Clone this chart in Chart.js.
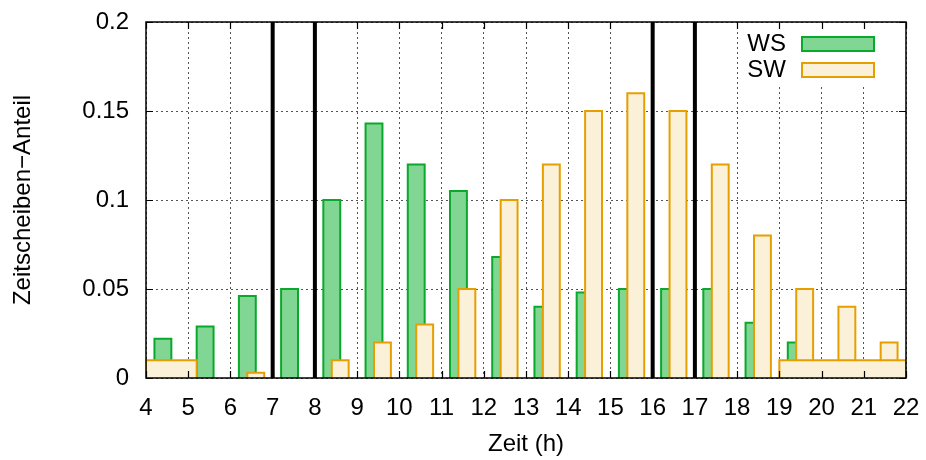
<!DOCTYPE html>
<html><head><meta charset="utf-8">
<script src="https://cdn.jsdelivr.net/npm/chart.js@4"></script>
<style>html,body{margin:0;padding:0;background:#fff}canvas{display:block}</style>
</head><body>
<canvas id="c" width="926" height="460"></canvas>
<script>
// ---- data ----
const seriesNames = ['WS', 'SW'];
const hours    = [4, 5, 6, 7, 8, 9, 10, 11, 12, 13, 14, 15, 16, 17, 18, 19, 20, 21];
const wsValues = [0.022, 0.029, 0.046, 0.050, 0.100, 0.143, 0.120, 0.105, 0.068, 0.040, 0.048, 0.050, 0.050, 0.050, 0.031, 0.020, 0, 0];
const swValues = [0, 0, 0.003, 0, 0.010, 0.020, 0.030, 0.050, 0.100, 0.120, 0.150, 0.160, 0.150, 0.120, 0.080, 0.050, 0.040, 0.020];
const swBlockFrom   = [4, 19];
const swBlockTo     = [5.2, 22];
const swBlockValues = [0.01, 0.01];
const markerHours = [7, 8, 16, 17];
const xTickLabels = ['4','5','6','7','8','9','10','11','12','13','14','15','16','17','18','19','20','21','22'];
const yTickLabels = ['0', '0.05', '0.1', '0.15', '0.2'];
const xTitle = 'Zeit (h)';
const yTitle = 'Zeitscheiben\u2212Anteil';

// ---- styling ----
const FONT = '"Liberation Sans", Arial, Helvetica, sans-serif';
const WS_FILL = '#82d693', WS_LINE = '#0aa82c';
const SW_FILL = '#fbf1d9', SW_LINE = '#e69f00';
const WS_OFFSET = 0.2, SW_OFFSET = 0.4, BAR_W = 0.4;

function rect(x0, x1, v) {
  return [{x: x0, y: 0}, {x: x0, y: v}, {x: x1, y: v}, {x: x1, y: 0}];
}
function barSet(x0, x1, v, fill, line, order) {
  return {
    type: 'line', data: rect(x0, x1, v), fill: 'origin',
    backgroundColor: fill, borderColor: line, borderWidth: 2,
    pointRadius: 0, pointHoverRadius: 0, tension: 0,
    borderJoinStyle: 'miter', order: order
  };
}

const datasets = [];
hours.forEach((h, i) => {
  if (wsValues[i] > 0) datasets.push(barSet(h + WS_OFFSET, h + WS_OFFSET + BAR_W, wsValues[i], WS_FILL, WS_LINE, 4));
});
hours.forEach((h, i) => {
  if (swValues[i] > 0) datasets.push(barSet(h + SW_OFFSET, h + SW_OFFSET + BAR_W, swValues[i], SW_FILL, SW_LINE, 3));
});
swBlockValues.forEach((v, i) => {
  datasets.push(barSet(swBlockFrom[i], swBlockTo[i], v, SW_FILL, SW_LINE, 2));
});
markerHours.forEach(h => {
  datasets.push({
    type: 'line', data: [{x: h, y: 0}, {x: h, y: 0.2}], borderColor: '#000',
    borderWidth: 4, fill: false, pointRadius: 0, pointHoverRadius: 0, order: 1
  });
});

const framePlugin = {
  id: 'frame',
  beforeDatasetsDraw(chart) {
    const {ctx, chartArea: a} = chart;
    ctx.save();
    ctx.fillStyle = '#fff';
    ctx.fillRect(a.right - 165, a.top + 1, 164, 61);
    ctx.restore();
  },
  afterDatasetsDraw(chart) {
    const {ctx, chartArea: a, scales} = chart;
    ctx.save();
    // inward tick marks
    ctx.strokeStyle = '#000';
    ctx.lineWidth = 1.2;
    ctx.beginPath();
    scales.x.ticks.forEach(t => {
      const px = Math.round(scales.x.getPixelForValue(t.value)) + 0.5;
      ctx.moveTo(px, a.bottom); ctx.lineTo(px, a.bottom - 7);
      ctx.moveTo(px, a.top); ctx.lineTo(px, a.top + 7);
    });
    scales.y.ticks.forEach(t => {
      const py = Math.round(scales.y.getPixelForValue(t.value)) + 0.5;
      ctx.moveTo(a.left, py); ctx.lineTo(a.left + 7, py);
      ctx.moveTo(a.right, py); ctx.lineTo(a.right - 7, py);
    });
    ctx.stroke();
    // frame
    ctx.lineWidth = 1.5;
    ctx.strokeRect(a.left, a.top, a.right - a.left, a.bottom - a.top);
    // legend
    const fills = [WS_FILL, SW_FILL], lines = [WS_LINE, SW_LINE];
    ctx.font = '24px ' + FONT;
    ctx.textAlign = 'right';
    ctx.textBaseline = 'middle';
    seriesNames.forEach((name, i) => {
      const cy = a.top + 22 + i * 26;
      ctx.fillStyle = '#000';
      ctx.fillText(name, a.right - 120, cy);
      ctx.fillStyle = fills[i];
      ctx.fillRect(a.right - 104, cy - 7, 72, 14);
      ctx.strokeStyle = lines[i];
      ctx.lineWidth = 2;
      ctx.strokeRect(a.right - 104, cy - 7, 72, 14);
    });
    ctx.restore();
  }
};

const axisFont = {family: FONT, size: 24};
const gridOpts = {color: '#555', lineWidth: 1, drawTicks: false};
const borderOpts = {display: false, dash: [2, 3]};

new Chart(document.getElementById('c'), {
  type: 'line',
  data: {datasets},
  options: {
    responsive: false, animation: false, devicePixelRatio: 1,
    layout: {padding: {top: 22, right: 20, bottom: 1, left: 0}},
    plugins: {legend: {display: false}, tooltip: {enabled: false}},
    events: [],
    scales: {
      x: {
        type: 'linear', min: 4, max: 22,
        ticks: {stepSize: 1, autoSkip: false, maxRotation: 0, padding: 16, color: '#000', font: axisFont,
                callback: (v, i) => xTickLabels[i]},
        grid: gridOpts, border: borderOpts,
        title: {display: true, text: xTitle, color: '#000', font: axisFont, padding: {top: 0, bottom: 0}},
        afterFit: s => { s.height = 81; s.paddingLeft = 0; s.paddingRight = 0; }
      },
      y: {
        type: 'linear', min: 0, max: 0.2,
        ticks: {stepSize: 0.05, padding: 17, color: '#000', font: axisFont,
                callback: (v, i) => yTickLabels[i]},
        grid: gridOpts, border: borderOpts,
        title: {display: true, text: yTitle, color: '#000', font: axisFont, padding: {top: 9, bottom: 0}},
        afterFit: s => { s.width = 146; s.paddingTop = 0; s.paddingBottom = 0; }
      }
    }
  },
  plugins: [framePlugin]
});
</script>
</body></html>
